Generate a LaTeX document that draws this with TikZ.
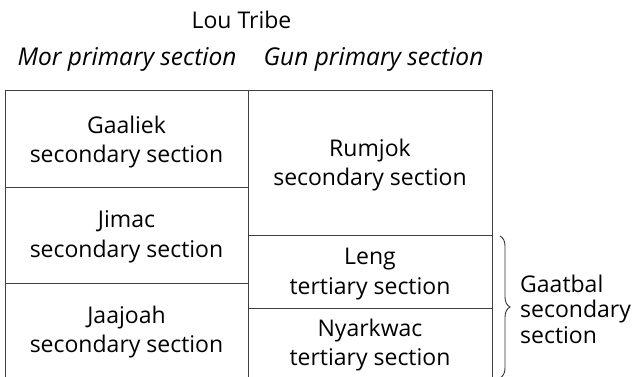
\documentclass[tikz,border=0pt]{standalone}
\usepackage{fontspec}
\setmainfont{Open Sans}
\usetikzlibrary{decorations.pathreplacing}
\begin{document}
\begin{tikzpicture}[x=1pt,y=-1pt,
  cell/.style={align=center, font=\fontsize{23}{29.5}\selectfont, text=black},
  title/.style={anchor=base, font=\fontsize{23}{29}\selectfont, text=black},
  head/.style={anchor=base, font=\fontsize{24.5}{29}\selectfont\itshape, text=black},
  grid/.style={draw=black!75, line width=1pt}]
\useasboundingbox (0,0) rectangle (634,376);

% corner coordinates of the table
\coordinate (tl) at (5,90);
\coordinate (tm) at (248,90);
\coordinate (tr) at (492,90);
\coordinate (bl) at (5,382);
\coordinate (bm) at (248,382);
\coordinate (br) at (492,382);

\draw[grid] (bl) -- (tl) -- (tr) -- (br) -- cycle;
\draw[grid] (tm) -- (bm);
% row dividers
\draw[grid] (5,187) -- (248,187);
\draw[grid] (5,283) -- (248,283);
\draw[grid] (248,235) -- (492,235);
\draw[grid] (248,308) -- (492,308);

% headings
\node[title] (tribe) at (241.5,28) {Lou Tribe};
\node[head] (mor) at (127,65) {Mor primary section};
\node[head] (gun) at (373.5,65) {Gun primary section};

% cells
\node[cell] (gaaliek) at (126.5,142) {Gaaliek\\secondary section};
\node[cell] (jimac) at (126.5,237) {Jimac\\secondary section};
\node[cell] (jaajoah) at (126.5,332) {Jaajoah\\secondary section};
\node[cell] (rumjok) at (370,165) {Rumjok\\secondary section};
\node[cell] (leng) at (370,274) {Leng\\tertiary section};
\node[cell] (nyark) at (370,345) {Nyarkwac\\tertiary section};

% brace grouping the two tertiary sections
\coordinate (btop) at (500,236);
\coordinate (bbot) at (500,378);
\draw[black!80, line width=0.9pt, decorate, decoration={brace, amplitude=10pt}] (btop) -- (bbot);
\node[cell, align=left, anchor=west, inner sep=0pt, font=\fontsize{23}{25.5}\selectfont] (gaatbal) at (520,309) {Gaatbal\\secondary\\section};
\end{tikzpicture}
\end{document}
